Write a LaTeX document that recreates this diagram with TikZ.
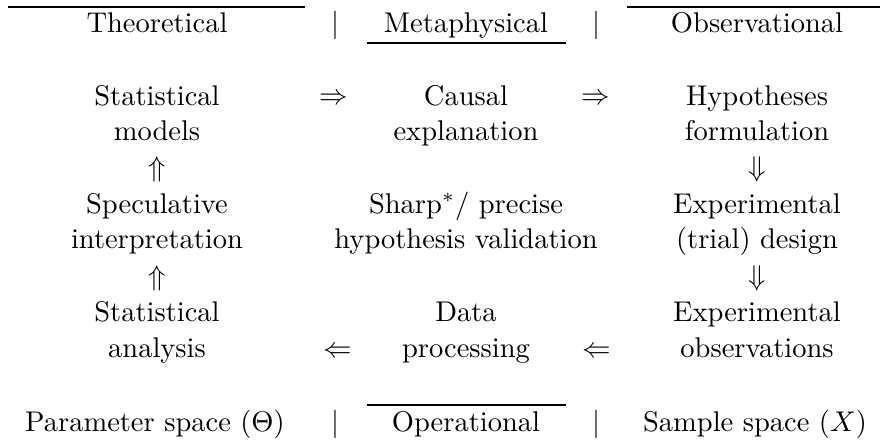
\documentclass[tikz,border=0pt]{standalone}
\usepackage{amsmath}
\usepackage{amssymb}
\usetikzlibrary{positioning}
\tikzset{
    cell/.style={inner sep=0pt, align=center, anchor=base, font=\fontsize{10}{12.63}\selectfont},
    sym/.style={inner sep=0pt, anchor=base},
    rule/.style={line width=0.4pt}
}

\begin{document}
\begin{tikzpicture}[x=0.3509pt, y=-0.3509pt]
    \useasboundingbox (0,0) rectangle (880,441);
    \node[cell] (theo) at (157,33) {Theoretical};
    \node[cell] (meta) at (466,33) {Metaphysical};
    \node[cell] (obs) at (757,33) {Observational};
    \node[sym] (bar1) at (335,33) {$|$};
    \node[sym] (bar2) at (596,33) {$|$};
    \draw[rule] (8,7) -- (305,7);
    \draw[rule] (367,43) -- (566,43);
    \draw[rule] (627,7) -- (880,7);

    \node[cell] (statmod) at (157,141) {Statistical\\models};
    \node[cell] (causal) at (466,141) {Causal\\explanation};
    \node[cell] (hypo) at (757,141) {Hypotheses\\formulation};
    \node[cell] (spec) at (157,249) {Speculative\\interpretation};
    \node[cell] (sharp) at (466,249) {Sharp$^*$/ precise\\hypothesis validation};
    \node[cell] (design) at (757,249) {Experimental\\(trial) design};
    \node[cell] (statan) at (157,357) {Statistical\\analysis};
    \node[cell] (proc) at (466,357) {Data\\processing};
    \node[cell] (expobs) at (757,357) {Experimental\\observations};

    \node[sym] (r1) at (334,105) {$\Rightarrow$};
    \node[sym] (r2) at (596,105) {$\Rightarrow$};
    \node[sym] (u1) at (157,177) {$\Uparrow$};
    \node[sym] (u2) at (157,285) {$\Uparrow$};
    \node[sym] (d1) at (757,177) {$\Downarrow$};
    \node[sym] (d2) at (757,285) {$\Downarrow$};
    \node[sym] (l1) at (338,357) {$\Leftarrow$};
    \node[sym] (l2) at (597,357) {$\Leftarrow$};

    \node[cell] (param) at (155,431) {Parameter space $(\Theta)$};
    \node[sym] (bar3) at (335,431) {$|$};
    \node[cell] (oper) at (466,431) {Operational};
    \node[sym] (bar4) at (596,431) {$|$};
    \node[cell] (sample) at (755,431) {Sample space $(X)$};
    \draw[rule] (367,405) -- (566,405);
\end{tikzpicture}
\end{document}
